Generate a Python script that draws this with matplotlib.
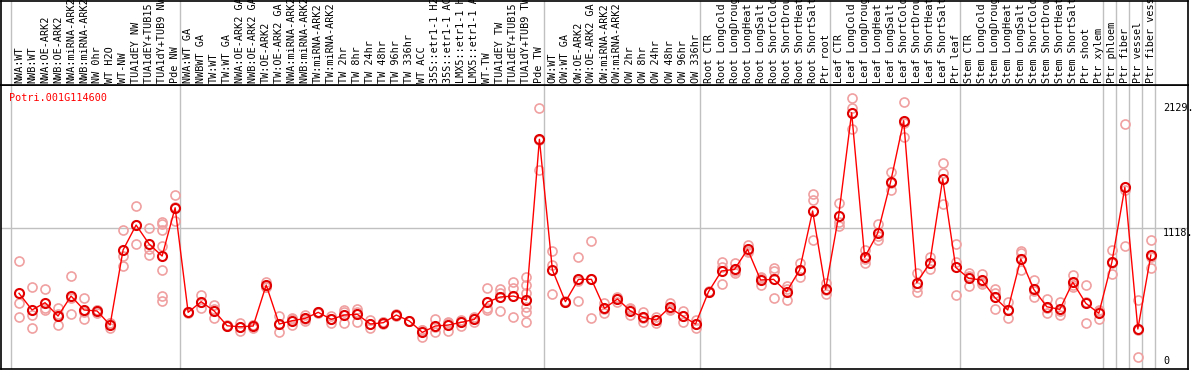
import matplotlib
matplotlib.use("Agg")
import matplotlib.pyplot as plt
import numpy as np

GENE = "Potri.001G114600"

samples = [
    # NW
    "NWA:WT", "NWB:WT", "NWA:OE-ARK2", "NWB:OE-ARK2", "NWA:miRNA-ARK2",
    "NWB:miRNA-ARK2", "NW 0hr", "WT H2O", "WT-NW", "TUA1dEY NW",
    "TUA1dEY+TUB15 NW", "TUA1dY+TUB9 NW", "Pde NW",
    # TW
    "NWA:WT GA", "NWBWT GA", "TW:WT", "TW:WT GA", "NWA:OE-ARK2 GA",
    "NWB:OE-ARK2 GA", "TW:OE-ARK2", "TW:OE-ARK2 GA", "NWA:miRNA-ARK2 GA",
    "NWB:miRNA-ARK2 GA", "TW:miRNA-ARK2", "TW:miRNA-ARK2 GA", "TW 2hr",
    "TW 8hr", "TW 24hr", "TW 48hr", "TW 96hr", "TW 336hr", "WT ACC",
    "35S::etr1-1 H2O", "35S::etr1-1 ACC", "LMX5::etr1-1 H2O",
    "LMX5::etr1-1 ACC", "WT-TW", "TUA1dEY TW", "TUA1dEY+TUB15 TW",
    "TUA1dY+TUB9 TW", "Pde TW",
    # OW
    "OW:WT", "OW:WT GA", "OW:OE-ARK2", "OW:OE-ARK2 GA", "OW:miRNA-ARK2",
    "OW:miRNA-ARK2 GA", "OW 2hr", "OW 8hr", "OW 24hr", "OW 48hr", "OW 96hr",
    "OW 336hr",
    # root
    "Root CTR", "Root LongCold", "Root LongDrought", "Root LongHeat",
    "Root LongSalt", "Root ShortCold", "Root ShortDrought", "Root ShortHeat",
    "Root ShortSalt", "Ptr root",
    # leaf
    "Leaf CTR", "Leaf LongCold", "Leaf LongDrought", "Leaf LongHeat",
    "Leaf LongSalt", "Leaf ShortCold", "Leaf ShortDrought", "Leaf ShortHeat",
    "Leaf ShortSalt", "Ptr leaf",
    # stem
    "Stem CTR", "Stem LongCold", "Stem LongDrought", "Stem LongHeat",
    "Stem LongSalt", "Stem ShortCold", "Stem ShortDrought", "Stem ShortHeat",
    "Stem ShortSalt", "Ptr shoot", "Ptr xylem",
    # single tissues
    "Ptr phloem", "Ptr fiber", "Ptr vessel", "Ptr fiber vessel",
]

group_sizes = [13, 28, 12, 10, 10, 11, 1, 1, 1, 1]

mean_expr = [
    589, 454, 513, 405, 567, 454, 446, 332, 940, 1142, 988, 891, 1282,
    435, 521, 446, 326, 318, 324, 656, 340, 367, 386, 435, 378, 413, 419,
    340, 351, 413, 365, 273, 324, 332, 354, 378, 518, 559, 567, 535, 1836,
    778, 521, 702, 702, 467, 543, 446, 394, 373, 475, 405, 340,
    602, 770, 783, 945, 697, 702, 602, 778, 1256, 621,
    1215, 2052, 880, 1075, 1493, 1987, 675, 832, 1515, 799,
    710, 697, 556, 454, 867, 621, 480, 459, 678, 508, 427,
    840, 1447, 300, 899,
]

replicates = [
    [851, 513, 394], [637, 413, 305], [621, 470, 450], [467, 418, 330],
    [729, 553, 419], [548, 436, 378], [454, 427, 457], [346, 305, 345],
    [1102, 891, 812], [1296, 1142, 988], [1115, 945, 897],
    [1169, 1150, 1102, 974, 778, 567, 527], [1385, 1286, 1175],
    [440, 435, 430], [575, 467, 521], [494, 386, 458], [326, 330, 322],
    [351, 286, 317], [332, 305, 335], [683, 642, 643], [405, 273, 342],
    [386, 332, 383], [413, 367, 378], [440, 427, 438], [405, 351, 378],
    [454, 346, 439], [459, 359, 439], [373, 305, 342], [359, 340, 354],
    [418, 413, 408], [365, 368, 362], [292, 237, 290], [378, 278, 316],
    [351, 286, 359], [367, 326, 369], [394, 354, 386], [629, 454, 471],
    [621, 589, 446], [683, 629, 394],
    [723, 656, 589, 535, 480, 440, 354], [2087, 1588, 1833],
    [934, 818, 583], [525, 521, 517], [885, 529, 692], [1013, 386, 707],
    [513, 427, 461], [561, 521, 547], [467, 413, 458], [435, 359, 388],
    [399, 351, 369], [508, 454, 463], [448, 359, 408], [373, 305, 342],
    [605, 602, 599], [845, 662, 803], [832, 751, 766], [980, 934, 921],
    [718, 656, 717], [791, 772, 548], [648, 535, 623], [832, 723, 779],
    [1393, 1345, 1021], [670, 581, 612],
    [1323, 1169, 1134], [2173, 2087, 1917], [940, 832, 868],
    [1150, 1021, 1054], [1574, 1426, 1479], [2136, 1857, 1968],
    [751, 642, 602], [880, 783, 833], [1642, 1561, 1312], [988, 845, 575],
    [751, 648, 731], [745, 664, 682], [621, 459, 588], [521, 391, 450],
    [932, 919, 778], [697, 556, 610], [540, 432, 468], [521, 413, 443],
    [737, 656, 641], [656, 346, 522], [454, 378, 449],
    [940, 743, 837], [1958, 1426, 972], [535, 75, 290], [1021, 791, 885],
]

y_max_label = 2129
y_mid_label = 1118

GRID = "#c0c0c0"
REP = "#f0a0a0"
MONO = "DejaVu Sans Mono"
FS = 7.3

W, H = 1194, 370
fig = plt.figure(figsize=(W / 100, H / 100), dpi=100)

xlim = (-1.384, 89.854)
ylim = (-24, 2276)

ax = fig.add_axes([1 / W, 1 / H, 1187 / W, 284 / H])
hd = fig.add_axes([1 / W, 285 / H, 1187 / W, 84.5 / H])

x = np.arange(len(samples))
bounds = np.concatenate([[0], np.cumsum(group_sizes)]) - 0.65

for a in (ax, hd):
    a.set_xlim(*xlim)
    a.set_xticks([])
    a.set_yticks([])
    for s in a.spines.values():
        s.set_color("black")
        s.set_linewidth(1.2)
    for b in bounds:
        a.axvline(b, color=GRID, lw=1.0, zorder=0)

ax.set_ylim(*ylim)
ax.axhline(y_mid_label, color=GRID, lw=1.0, zorder=0)

# replicate values
rx = [i for i, r in enumerate(replicates) for _ in r]
ry = [v for r in replicates for v in r]
ax.plot(rx, ry, "o", ms=6.5, mfc="none", mec=REP, mew=1.2, zorder=2)

# means
ax.plot(x, mean_expr, "-", color="#ff0000", lw=1.0, zorder=3)
ax.plot(x, mean_expr, "o", ms=6.5, mfc="none", mec="#e00000", mew=1.5, zorder=4)

ax.text(8 / 1187, 1 - 7.7 / 284, GENE, transform=ax.transAxes, color="red",
        family=MONO, fontsize=FS, ha="left", va="top")

for val, lab in [(y_max_label, f"{y_max_label}."), (y_mid_label, f"{y_mid_label}.")]:
    ax.text(87.95, val, lab, family=MONO, fontsize=FS, ha="left", va="top")
ax.text(87.95, 15, "0", family=MONO, fontsize=FS, ha="left", va="baseline")

hd.set_ylim(0, 1)
for i, lab in enumerate(samples):
    hd.text(i, 0.027, lab, rotation=90, ha="center", va="bottom",
            family=MONO, fontsize=FS, clip_on=False)

fig.savefig("out.png", dpi=100)
